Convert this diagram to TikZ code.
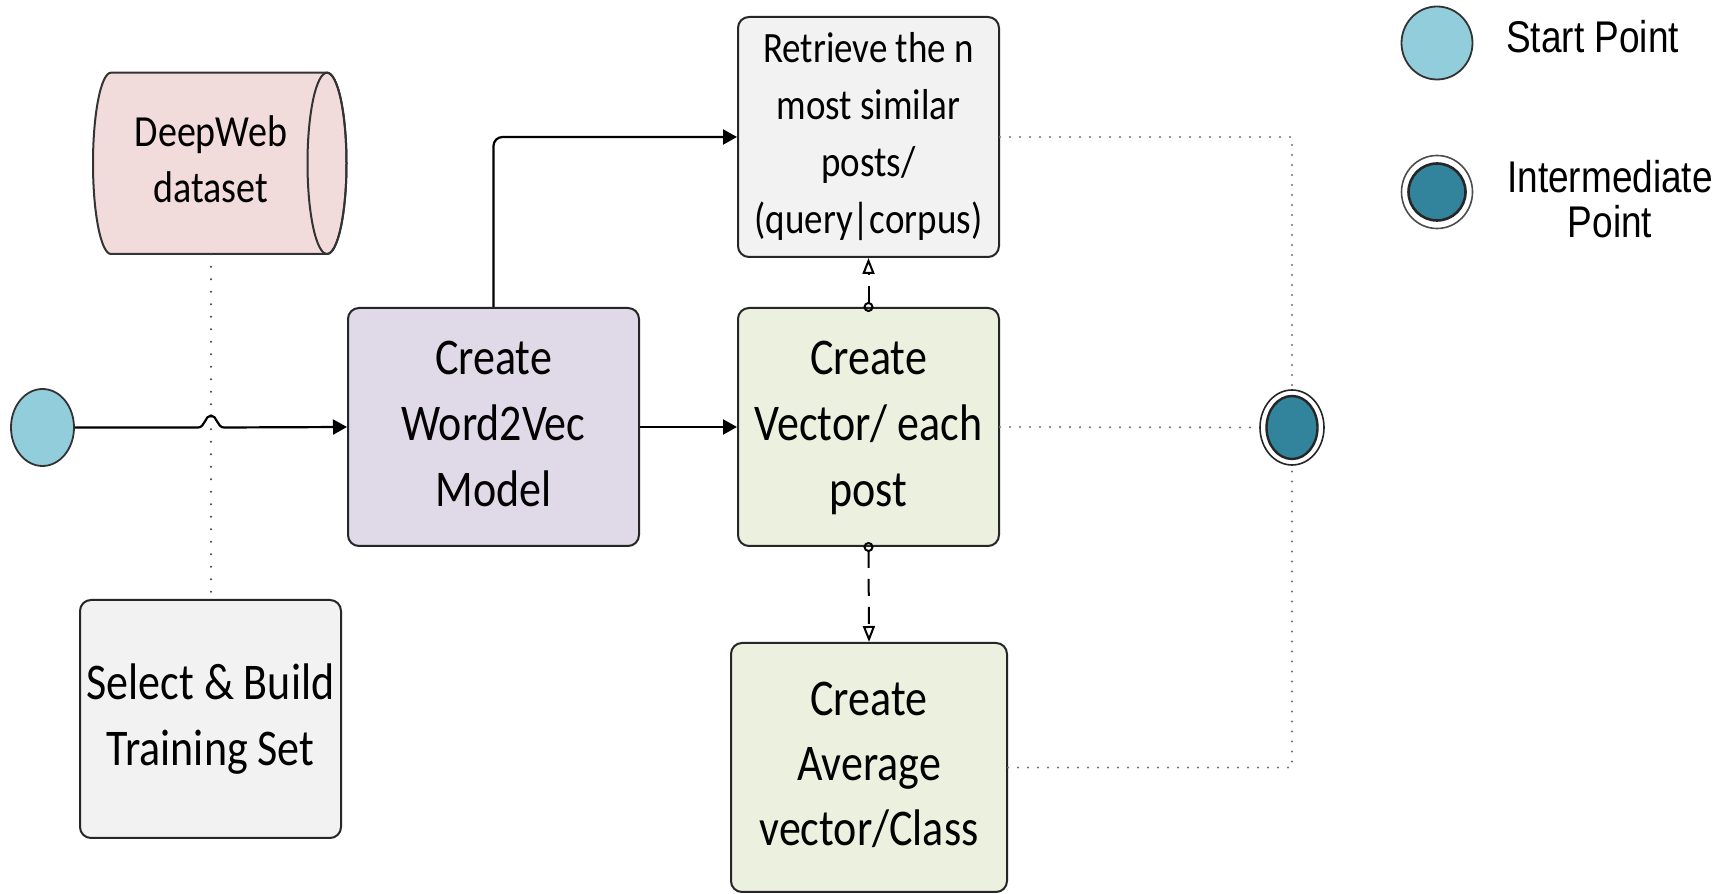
\documentclass[tikz,border=0pt]{standalone}
\usepackage{fontspec}
\setmainfont{Carlito}
\newfontfamily\legendfont{Liberation Sans}
\usepackage{graphicx}
\usetikzlibrary{arrows.meta,shapes.geometric}
\definecolor{startc}{HTML}{92CDDC}
\definecolor{midc}{HTML}{31849B}
\definecolor{dbc}{HTML}{F2DCDB}
\definecolor{w2vc}{HTML}{DFD9E8}
\definecolor{vecc}{HTML}{EBF1DE}
\definecolor{greyc}{HTML}{F2F2F2}
\definecolor{dotc}{HTML}{707070}
\newcommand{\boxtext}[3]{\scalebox{1}[1.17]{\fontsize{#1}{#2}\selectfont\begin{tabular}{@{}c@{}}#3\end{tabular}}}
\newcommand{\legtext}[1]{\scalebox{1}[1.2]{\legendfont\fontsize{37}{35.8}\selectfont\begin{tabular}{@{}c@{}}#1\end{tabular}}}
\tikzset{
  box/.style={draw=black!85, line width=2pt, rounded corners=11pt, inner sep=0pt, anchor=center},
  conn/.style={line width=2.2pt, -{Triangle[length=14pt,width=15pt]}},
  dashconn/.style={line width=2pt, dash pattern=on 17pt off 11pt,
    {Circle[open,length=10pt,width=10pt]}-{Triangle[open,length=16pt,width=12pt]}, shorten <=-5pt},
  dotline/.style={dotc, line width=2.3pt, line cap=round, dash pattern=on 0pt off 10pt},
  dbline/.style={black!75, line width=2.3pt, line cap=round, dash pattern=on 0pt off 12.5pt},
  startpt/.style={ellipse, draw=black!80, line width=1.8pt, fill=startc, inner sep=0pt},
}
\begin{document}
\begin{tikzpicture}[x=1pt,y=1pt]
\useasboundingbox (0,0) rectangle (1727,894);
\fill[white] (0,0) rectangle (1727,894);

% DeepWeb dataset cylinder
\filldraw[fill=dbc, draw=black!80, line width=2pt]
  (327,821.3) -- (111,821.3) arc[start angle=90, end angle=270, x radius=18, y radius=90.65]
  -- (327,640) arc[start angle=-90, end angle=90, x radius=19.5, y radius=90.65] -- cycle;
\draw[black!80, line width=2pt] (327,730.65) ellipse [x radius=19.5, y radius=90.65];
\node[inner sep=0pt, minimum width=200pt, minimum height=181.3pt] (db) at (211,730.65)
  {\boxtext{38}{48}{DeepWeb\\dataset}};

% boxes
\node[box, fill=greyc, minimum width=261pt, minimum height=238pt] (sel) at (210.5,175)
  {\boxtext{44}{56.4}{Select \& Build\\Training Set}};
\node[box, fill=w2vc, minimum width=291pt, minimum height=238pt] (w2v) at (493.5,467)
  {\boxtext{44}{56.4}{Create\\Word2Vec\\Model}};
\node[box, fill=vecc, minimum width=261pt, minimum height=238pt] (vec) at (868.5,467)
  {\boxtext{44}{56.4}{Create\\Vector/ each\\post}};
\node[box, fill=greyc, minimum width=261pt, minimum height=240pt] (ret) at (868.5,757)
  {\boxtext{37}{48.7}{Retrieve the n\\most similar\\posts/\\(query|corpus)}};
\node[box, fill=vecc, minimum width=276pt, minimum height=249pt] (avg) at (869,126.5)
  {\boxtext{44}{55.6}{Create\\Average\\vector/Class}};

% start and intermediate points
\node[startpt, minimum width=63pt, minimum height=77pt] (st) at (42.5,466.5) {};
\node[ellipse, draw=black!85, line width=1.6pt, fill=white, inner sep=0pt,
  minimum width=64pt, minimum height=75pt] (mid) at (1292,466.5) {};
\node[ellipse, draw=black!85, line width=2.4pt, fill=midc, inner sep=0pt,
  minimum width=51pt, minimum height=63pt] (midin) at (mid.center) {};

% connectors
\draw[dbline] (db.south) -- (db.south |- sel.north);
\coordinate (jmp) at (db.south |- st.east);
\draw[conn] (st.east) -- ([xshift=-13pt]jmp)
  .. controls ([xshift=-6pt]jmp) and ([xshift=-6pt,yshift=12pt]jmp) .. ([yshift=12pt]jmp)
  .. controls ([xshift=6pt,yshift=12pt]jmp) and ([xshift=6pt]jmp) .. ([xshift=13pt]jmp)
  -- (w2v.west);
\draw[conn] (w2v.east) -- (vec.west);
\draw[conn, rounded corners=9pt] (w2v.north) |- (ret.west);
\draw[dashconn] (vec.north) -- (ret.south);
\draw[dashconn] (vec.south) -- (avg.north);
\draw[dotline] (ret.east) -| (mid.north);
\draw[dotline] (vec.east) -- (mid.west);
\draw[dotline] (avg.east) -| (mid.south);

% legend
\node[startpt, minimum width=71pt, minimum height=73pt] (lst) at (1437,851) {};
\node[anchor=west, inner sep=0pt] (lsttxt) at (1506,851) {\legtext{Start Point}};
\node[ellipse, draw=black!70, line width=1.6pt, fill=white, inner sep=0pt,
  minimum width=71pt, minimum height=73pt] (lmid) at (1437,702) {};
\node[ellipse, draw=black!85, line width=2.6pt, fill=midc, inner sep=0pt,
  minimum width=57pt, minimum height=57pt] (lmidin) at (lmid.center) {};
\node[inner sep=0pt] (lmidtxt) at (1610,688.5) {\legtext{Intermediate\\Point}};
\end{tikzpicture}
\end{document}
